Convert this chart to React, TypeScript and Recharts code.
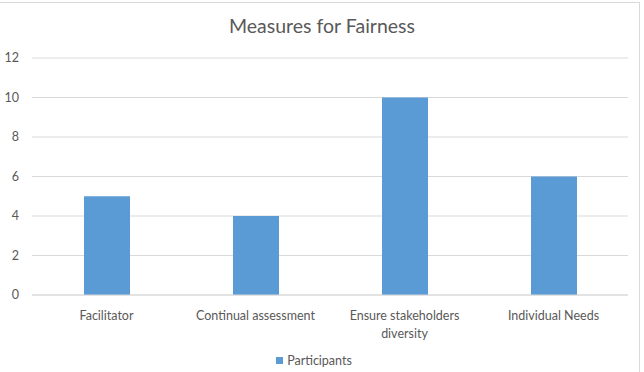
import React from "react";
import { BarChart, Bar, XAxis, YAxis, CartesianGrid, Legend } from "recharts";

const categories = ["Facilitator", "Continual assessment", "Ensure stakeholders\ndiversity", "Individual Needs"];
const participants = [5, 4, 10, 6];
const yTicks = [0, 2, 4, 6, 8, 10, 12];
const title = "Measures for Fairness";
const seriesName = "Participants";

const data = categories.map((c, i) => ({ name: c, value: participants[i] }));

const FONT = "Lato, 'Open Sans', sans-serif";
const TEXT = "#595959";

const XTick = (props: any) => {
  const { x, y, payload } = props;
  const lines = String(payload.value).split("\n");
  return (
    <text x={x} y={y} textAnchor="middle" fill={TEXT} fontSize={12.5} fontFamily={FONT}>
      {lines.map((l, i) => (
        <tspan key={i} x={x} dy={i === 0 ? 23 : 18}>
          {l}
        </tspan>
      ))}
    </text>
  );
};

const LegendContent = () => (
  <div style={{ display: "flex", justifyContent: "center", alignItems: "center", fontFamily: FONT, fontSize: 12.5, color: TEXT, paddingTop: 6 }}>
    <span style={{ display: "inline-block", width: 7, height: 7, background: "#5B9BD5", marginRight: 4 }} />
    <span>{seriesName}</span>
  </div>
);

export default function App() {
  return (
    <div style={{ position: "absolute", left: 0, top: 0, width: 644, height: 372, background: "#fff" }}>
      <div style={{ position: "absolute", left: 0, top: 2, width: 640, height: 370, borderTop: "1px solid #D9D9D9", borderRight: "1px solid #D9D9D9", boxSizing: "border-box" }} />
      <div
        style={{
          position: "absolute",
          left: 0,
          width: 644,
          top: 13,
          textAlign: "center",
          fontFamily: FONT,
          fontSize: 19.5,
          color: TEXT,
          lineHeight: "26px",
        }}
      >
        {title}
      </div>
      <div style={{ position: "absolute", left: 0, top: 0 }}>
        <BarChart width={644} height={372} data={data} margin={{ top: 58, right: 16, bottom: 0, left: 0 }}>
          <CartesianGrid vertical={false} stroke="#D9D9D9" />
          <XAxis
            dataKey="name"
            axisLine={{ stroke: "#D9D9D9" }}
            tickLine={false}
            tickSize={0}
            interval={0}
            tick={<XTick />}
            height={52}
          />
          <YAxis
            domain={[0, 12]}
            ticks={yTicks}
            axisLine={false}
            tickLine={false}
            tickSize={0}
            tickMargin={13}
            width={32}
            tick={{ fill: TEXT, fontSize: 12.5, fontFamily: FONT }}
          />
          <Legend verticalAlign="bottom" height={25} content={<LegendContent />} />
          <Bar dataKey="value" name={seriesName} fill="#5B9BD5" barSize={46} isAnimationActive={false} />
        </BarChart>
      </div>
    </div>
  );
}
